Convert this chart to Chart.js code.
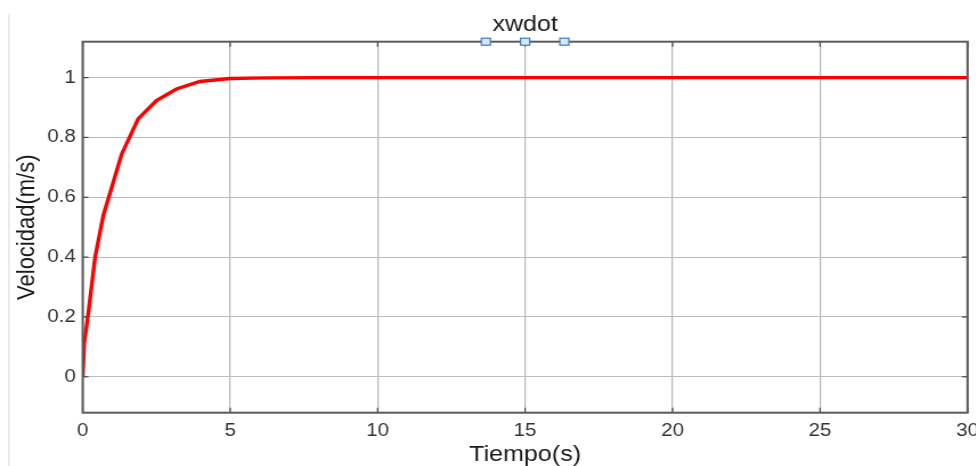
<!DOCTYPE html>
<html>
<head>
<meta charset="utf-8">
<script src="https://cdn.jsdelivr.net/npm/chart.js@4/dist/chart.umd.min.js"></script>
<style>
  html, body { margin: 0; padding: 0; background: #fff; }
  #wrap { position: relative; width: 976px; height: 466px; overflow: hidden; background: #fff; }
  #edge { position: absolute; left: 8px; top: 14px; width: 2px; height: 452px; background: #ebebeb; }
  #c { position: absolute; left: 0; top: 0; transform: scaleX(1.14); transform-origin: 0 0; filter: blur(0.3px); }
</style>
</head>
<body>
<div id="wrap">
  <div id="edge"></div>
  <canvas id="c" width="880" height="466"></canvas>
</div>
<script>
// Simulated response: time (s) and velocity (m/s)
const tiempo    = [0, 0.05, 0.2, 0.42, 0.7, 1.32, 1.88, 2.5, 3.18, 3.97, 5.0, 6.2, 8, 10, 15, 20, 25, 30];
const velocidad = [0, 0.11, 0.22, 0.40, 0.54, 0.744, 0.862, 0.923, 0.962, 0.987, 0.997, 0.999, 1, 1, 1, 1, 1, 1];

const xTicks = [0, 5, 10, 15, 20, 25, 30];
const yTicks = [0, 0.2, 0.4, 0.6, 0.8, 1];

const titulo = 'xwdot';
const etiquetaX = 'Tiempo(s)';
const etiquetaY = 'Velocidad(m/s)';

// selection handles sitting on the top edge of the axes (in time units)
const handles = [13.67, 15, 16.33];

const FONT = 'Liberation Sans, Arial, Helvetica, sans-serif';

const frame = {
  id: 'frame',
  afterDatasetsDraw(chart) {
    const { ctx, chartArea: a, scales: { x, y } } = chart;
    const seg = (x1, y1, x2, y2) => { ctx.beginPath(); ctx.moveTo(x1, y1); ctx.lineTo(x2, y2); ctx.stroke(); };
    ctx.save();
    // inward tick marks
    ctx.strokeStyle = '#444444';
    ctx.lineWidth = 1.2;
    const L = 5;
    xTicks.forEach(v => {
      const px = x.getPixelForValue(v);
      seg(px, a.bottom, px, a.bottom - L);
      seg(px, a.top, px, a.top + L);
    });
    yTicks.forEach(v => {
      const py = y.getPixelForValue(v);
      seg(a.left, py, a.left + L, py);
      seg(a.right, py, a.right - L, py);
    });
    // axes box
    ctx.strokeStyle = '#5a5a5a';
    ctx.lineWidth = 2;
    ctx.strokeRect(a.left, a.top, a.right - a.left, a.bottom - a.top);
    // handles
    const w = 8, h = 7;
    handles.forEach(v => {
      const px = x.getPixelForValue(v);
      ctx.fillStyle = '#d6e6f5';
      ctx.strokeStyle = '#3a7ebf';
      ctx.lineWidth = 1.2;
      ctx.fillRect(px - w / 2, a.top - h / 2, w, h);
      ctx.strokeRect(px - w / 2, a.top - h / 2, w, h);
    });
    ctx.restore();
  }
};

new Chart(document.getElementById('c'), {
  type: 'line',
  data: {
    datasets: [{
      data: tiempo.map((t, i) => ({ x: t, y: velocidad[i] })),
      borderColor: '#ff0000',
      borderWidth: 3.4,
      pointRadius: 0,
      tension: 0,
      fill: false
    }]
  },
  options: {
    responsive: false,
    maintainAspectRatio: false,
    animation: false,
    devicePixelRatio: 1,
    layout: { padding: { left: 0, right: 31.3, top: 0, bottom: 0 } },
    plugins: {
      legend: { display: false },
      tooltip: { enabled: false },
      title: {
        display: true,
        text: titulo,
        fullSize: false,
        color: '#1a1a1a',
        font: { family: FONT, size: 22, weight: 'normal', lineHeight: 1.2 },
        padding: { top: 11.3, bottom: 4 }
      }
    },
    scales: {
      x: {
        type: 'linear',
        min: 0,
        max: 30,
        afterBuildTicks: s => { s.ticks = xTicks.map(v => ({ value: v })); },
        afterFit: s => { s.height = 53.3; },
        ticks: {
          color: '#333333',
          font: { family: FONT, size: 18 },
          padding: 8,
          maxRotation: 0,
          callback: v => String(v)
        },
        grid: { color: '#b6b6b6', lineWidth: 1.2, drawTicks: false },
        border: { display: false },
        title: {
          display: true,
          text: etiquetaX,
          color: '#1a1a1a',
          font: { family: FONT, size: 22, lineHeight: 1 },
          padding: { top: 0, bottom: 0 }
        }
      },
      y: {
        type: 'linear',
        min: -0.12,
        max: 1.12,
        afterBuildTicks: s => { s.ticks = yTicks.map(v => ({ value: v })); },
        afterFit: s => { s.width = 72.54; },
        ticks: {
          color: '#333333',
          font: { family: FONT, size: 18 },
          padding: 6,
          callback: v => String(Math.round(v * 10) / 10)
        },
        grid: { color: '#bcbcbc', lineWidth: 1, drawTicks: false },
        border: { display: false },
        title: {
          display: true,
          text: etiquetaY,
          color: '#1a1a1a',
          font: { family: FONT, size: 22, lineHeight: 1 },
          padding: { top: 12.7, bottom: 0 }
        }
      }
    }
  },
  plugins: [frame]
});
</script>
</body>
</html>
